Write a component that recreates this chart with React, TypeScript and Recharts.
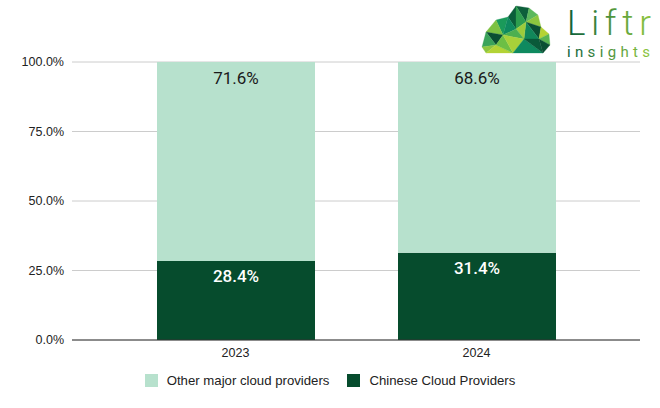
import React from "react";
import { BarChart, Bar, XAxis, YAxis, CartesianGrid, Legend, LabelList } from "recharts";

const categories = ["2023", "2024"];
const chineseShare = [28.4, 31.4];
const otherShare = [71.6, 68.6];
const yTicks = [0, 25, 50, 75, 100];

const seriesNames = { other: "Other major cloud providers", chinese: "Chinese Cloud Providers" };
const LIGHT = "#b7e1cd";
const DARK = "#064c2d";

const data = categories.map((c, i) => ({ year: c, chinese: chineseShare[i], other: otherShare[i] }));

const fmt = (v: number) => `${v.toFixed(1)}%`;

const logoTris: [number[], string][] = [
  [[496, 20, 508, 17, 503, 35], "#1a9a5a"],
  [[508, 17, 516, 6, 516, 29], "#0b5e3a"],
  [[516, 6, 529, 8, 526, 22], "#0d5f3b"],
  [[529, 8, 538, 15, 526, 22], "#5cb85c"],
  [[538, 15, 541, 27, 526, 22], "#8dc63f"],
  [[516, 6, 526, 22, 516, 29], "#2e9e4f"],
  [[508, 17, 516, 29, 503, 35], "#0f8a5f"],
  [[526, 22, 541, 27, 539, 39], "#0b5034"],
  [[526, 22, 539, 39, 524, 39], "#11875a"],
  [[516, 29, 526, 22, 524, 39], "#9ccb3b"],
  [[503, 35, 516, 29, 524, 39], "#4caf50"],
  [[486, 32, 496, 20, 503, 35], "#7dc242"],
  [[486, 32, 503, 35, 496, 45], "#0a4f33"],
  [[482, 47, 486, 32, 496, 45], "#3aa35a"],
  [[482, 47, 496, 45, 486, 53], "#8dc63f"],
  [[486, 53, 496, 45, 513, 53], "#b3d335"],
  [[496, 45, 503, 35, 513, 53], "#6cbf45"],
  [[503, 35, 524, 39, 513, 53], "#a8d13a"],
  [[513, 53, 524, 39, 543, 53], "#0f8a5f"],
  [[524, 39, 539, 39, 543, 53], "#0a5a3a"],
  [[541, 27, 549, 34, 539, 39], "#b5d334"],
  [[549, 34, 550, 45, 539, 39], "#5ab552"],
  [[539, 39, 550, 45, 543, 53], "#0a4f33"],
];

const Logo = () => (
  <svg width={660} height={408} style={{ position: "absolute", left: 0, top: 0, pointerEvents: "none" }}>
    <defs>
      <linearGradient id="lg" x1="0" x2="1" y1="0" y2="0">
        <stop offset="0%" stopColor="#0b5e3a" />
        <stop offset="100%" stopColor="#8dc63f" />
      </linearGradient>
    </defs>
    {logoTris.map(([p, c], i) => (
      <polygon key={i} points={`${p[0]},${p[1]} ${p[2]},${p[3]} ${p[4]},${p[5]}`} fill={c} stroke={c} strokeWidth={0.3} />
    ))}
    <text x={567} y={35} fontFamily="Roboto" fontWeight={300} fontSize={35} fill="url(#lg)" textLength={84} lengthAdjust="spacing">
      Liftr
    </text>
    <text x={567} y={57} fontFamily="Roboto" fontWeight={400} fontSize={15} fill="url(#lg)" textLength={83} lengthAdjust="spacing">
      insights
    </text>
  </svg>
);

const LegendContent = () => (
  <div style={{ display: "flex", justifyContent: "center", alignItems: "center", height: 20, fontFamily: "'Liberation Sans', Arial, sans-serif", fontSize: 13.2, color: "#222" }}>
    {[
      { name: seriesNames.other, color: LIGHT },
      { name: seriesNames.chinese, color: DARK },
    ].map((it, i) => (
      <div key={i} style={{ display: "flex", alignItems: "center", marginLeft: i ? 18 : 0 }}>
        <span style={{ display: "inline-block", width: 13, height: 13, background: it.color, marginRight: 9 }} />
        <span>{it.name}</span>
      </div>
    ))}
  </div>
);

export default function App() {
  const tickStyle = { fontFamily: "'Liberation Sans', Arial, sans-serif", fontSize: 12.5, fill: "#222" };
  return (
    <div style={{ position: "absolute", left: 0, top: 0, width: 660, height: 408, background: "#fff" }}>
      <BarChart width={660} height={408} data={data} margin={{ top: 62, right: 20, left: 0, bottom: 18 }}>
        <CartesianGrid vertical={false} stroke="#cccccc" />
        <XAxis
          dataKey="year"
          padding={{ left: 43, right: 43 }}
          height={30}
          tickLine={false}
          axisLine={{ stroke: "#333" }}
          tick={tickStyle}
        />
        <YAxis
          domain={[0, 100]}
          ticks={yTicks}
          tickFormatter={fmt}
          width={72}
          axisLine={false}
          tickLine={false}
          tick={tickStyle}
        />
        <Legend verticalAlign="bottom" width={660} wrapperStyle={{ left: 0, width: 660 }} content={<LegendContent />} />
        <Bar dataKey="chinese" stackId="s" fill={DARK} barSize={158} isAnimationActive={false} name={seriesNames.chinese}>
          <LabelList dataKey="chinese" position="insideTop" offset={9} formatter={(v: any) => fmt(Number(v))} fill="#fff" fontFamily="Roboto" fontWeight={500} fontSize={17} />
        </Bar>
        <Bar dataKey="other" stackId="s" fill={LIGHT} barSize={158} isAnimationActive={false} name={seriesNames.other}>
          <LabelList dataKey="other" position="insideTop" offset={10} formatter={(v: any) => fmt(Number(v))} fill="#1a1a1a" fontFamily="Roboto" fontSize={17} />
        </Bar>
      </BarChart>
      <Logo />
    </div>
  );
}
